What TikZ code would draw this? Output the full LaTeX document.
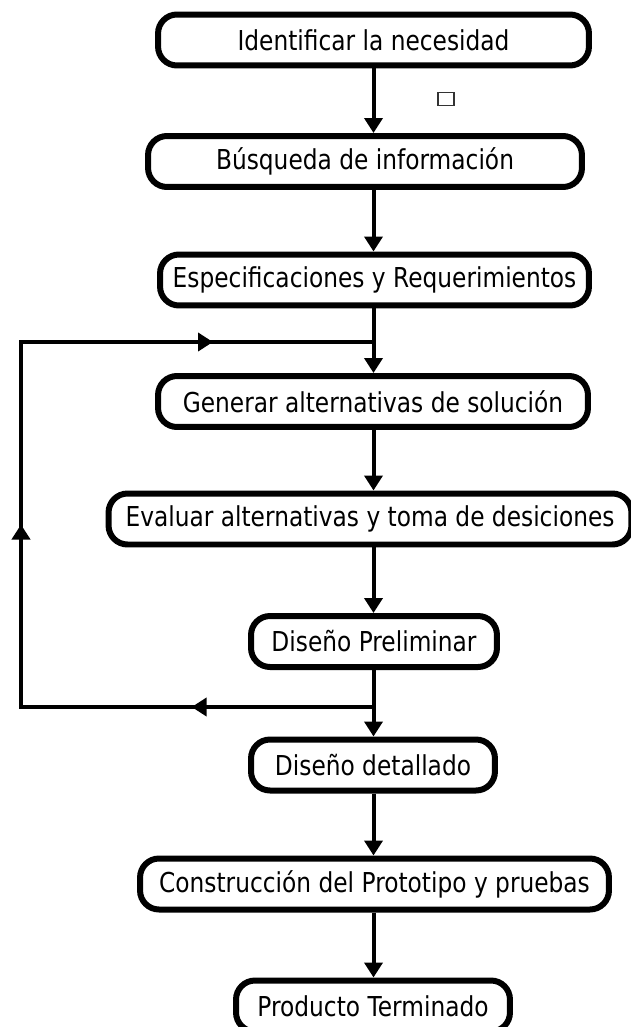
\documentclass[tikz,border=0pt]{standalone}
\usepackage{fontspec}
\setmainfont{DejaVu Sans}[FakeStretch=0.85]
\usepackage{tikz}
\usetikzlibrary{arrows.meta, positioning, decorations.markings}
\tikzset{>={Triangle[width=0.36cm,length=0.3cm]}}

\begin{document}
\begin{tikzpicture}[x=0.02cm, y=-0.02cm,
    etapa/.style={draw, line width=0.12cm, rounded corners=0.38cm, minimum height=1.02cm, inner sep=2pt, font=\fontsize{15.6}{18}\selectfont},
    flujo/.style={line width=0.08cm, ->},
    retorno/.style={line width=0.08cm, postaction={decorate},
      decoration={markings,
        mark=at position 0.17 with {\arrow{>}},
        mark=at position 0.5 with {\arrow{>}},
        mark=at position 0.85 with {\arrow{>}}}}]
  \useasboundingbox (0,0) rectangle (630,1027);
  % etapas del proceso
  \node[etapa, minimum width=8.62cm] (b1) at (373.5,40) {Identificar la necesidad};
  \node[etapa, minimum width=8.68cm] (b2) at (365,161.5) {Búsqueda de información};
  \node[etapa, minimum width=8.58cm] (b3) at (374.5,280) {Especificaciones y Requerimientos};
  \node[etapa, minimum width=8.6cm] (b4) at (373,401.5) {Generar alternativas de solución};
  \node[etapa, minimum width=10.46cm] (b5) at (370,519) {Evaluar alternativas y toma de desiciones};
  \node[etapa, minimum width=4.92cm] (b6) at (374,641.5) {Diseño Preliminar};
  \node[etapa, minimum width=4.88cm] (b7) at (373,765) {Diseño detallado};
  \node[etapa, minimum width=9.38cm] (b8) at (374.5,884) {Construcción del Prototipo y pruebas};
  \node[etapa, minimum width=5.48cm] (b9) at (373,1006) {Producto Terminado};
  \node[draw, black!80, line width=0.03cm, minimum width=0.32cm, minimum height=0.26cm, inner sep=0pt] (marca) at (446,99) {};
  % flechas
  \draw[flujo] (b1.south) -- (b1.south |- b2.north);
  \draw[flujo] (b1.south |- b2.south) -- (b1.south |- b3.north);
  \draw[flujo] (b1.south |- b3.south) -- (b1.south |- b4.north);
  \draw[flujo] (b1.south |- b4.south) -- (b1.south |- b5.north);
  \draw[flujo] (b1.south |- b5.south) -- (b1.south |- b6.north);
  \draw[flujo] (b1.south |- b6.south) -- (b1.south |- b7.north);
  \draw[flujo] (b1.south |- b7.south) -- (b1.south |- b8.north);
  \draw[flujo] (b1.south |- b8.south) -- (b1.south |- b9.north);
  % lazo de realimentacion
  \coordinate (entra) at (373.5,342);
  \coordinate (sale) at (373.5,707);
  \coordinate (esq1) at (21,707);
  \coordinate (esq2) at (21,342);
  \draw[retorno] (sale) -- (esq1) -- (esq2) -- (entra);
\end{tikzpicture}
\end{document}
